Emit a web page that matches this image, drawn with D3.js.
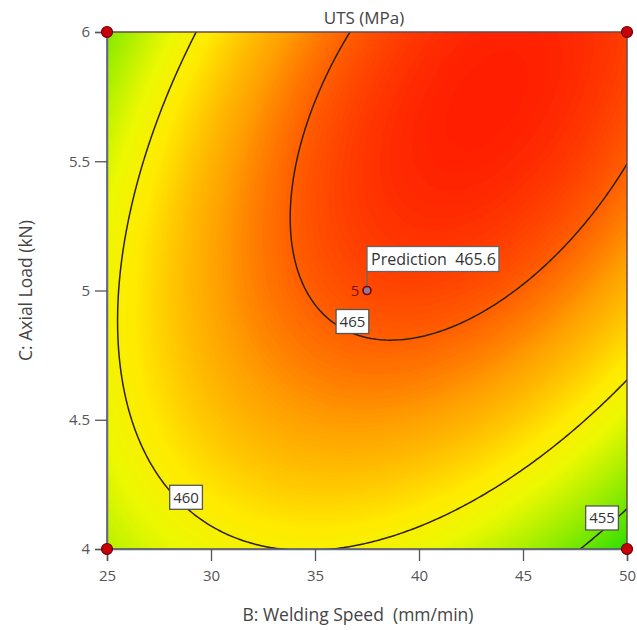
<!DOCTYPE html>
<html>
<head>
<script src="https://d3js.org/d3.v7.min.js"></script>
<style>
  body { margin: 0; background: #fff; }
  text { font-family: "Open Sans", "Noto Sans", sans-serif; fill: #444; }
</style>
</head>
<body>
<svg id="chart" width="637" height="630"></svg>
<script>
// factor ranges and ticks
const bRange = [25, 50];
const cRange = [4, 6];
const bTicks = [25, 30, 35, 40, 45, 50];
const cTicks = [4, 4.5, 5, 5.5, 6];

// quadratic model in coded units
const modelTerms = ["Intercept", "B", "C", "BC", "B^2", "C^2"];
const modelCoef = [465.6, 1.46, 2.83, 3.64, -4.55, -3.03];

const contourLevels = [455, 460, 465];
const designPoints = [[25, 4], [25, 6], [50, 4], [50, 6]];
const predictionPoint = [37.5, 5];
const predictionValue = 465.6;
const predictionCount = 5;

const svg = d3.select("#chart");
const pLeft = 107, pRight = 627, pTop = 32, pBottom = 549;

const x = d3.scaleLinear().domain(bRange).range([pLeft, pRight]);
const y = d3.scaleLinear().domain(cRange).range([pBottom, pTop]);

const color = d3.scaleLinear()
    .domain([453, 456, 459, 460.6, 463.3, 465.2, 467])
    .range(["rgb(40,220,0)", "rgb(140,235,0)", "rgb(235,248,0)", "rgb(255,235,0)",
            "rgb(255,160,0)", "rgb(255,88,0)", "rgb(255,28,0)"])
    .clamp(true);

function uts(B, C) {
  const u = (B - 37.5) / 12.5, v = (C - 5) / 1;
  const terms = [1, u, v, u * v, u * u, v * v];
  return d3.sum(terms, (t, i) => t * modelCoef[i]);
}

// grid a bit beyond the plot so ring edges fall outside the clip
const nx = 220, ny = 200;
const gB = [24, 51], gC = [3.9, 6.1];
const gx = d3.scaleLinear().domain([0, nx]).range(gB);
const gy = d3.scaleLinear().domain([0, ny]).range([gC[1], gC[0]]);
const values = new Array(nx * ny);
for (let j = 0; j < ny; j++)
  for (let i = 0; i < nx; i++)
    values[i + j * nx] = uts(gx(i), gy(j));

const proj = d3.geoTransform({
  point: function(px, py) { this.stream.point(x(gx(px)), y(gy(py))); }
});
const path = d3.geoPath(proj);

svg.append("clipPath").attr("id", "plotclip")
  .append("rect").attr("x", pLeft).attr("y", pTop)
  .attr("width", pRight - pLeft).attr("height", pBottom - pTop);

const plot = svg.append("g").attr("clip-path", "url(#plotclip)");

const fillLevels = d3.range(440, 470, 0.1);
plot.append("g").selectAll("path")
  .data(d3.contours().size([nx, ny]).thresholds(fillLevels)(values))
  .join("path")
  .attr("d", path)
  .attr("fill", d => color(d.value + 0.05))
  .attr("stroke", d => color(d.value + 0.05))
  .attr("stroke-width", 0.6);

plot.append("g").selectAll("path")
  .data(d3.contours().size([nx, ny]).thresholds(contourLevels)(values))
  .join("path")
  .attr("d", path)
  .attr("fill", "none")
  .attr("stroke", "#2e200e")
  .attr("stroke-width", 1.5);

// frame
svg.append("rect")
  .attr("x", pLeft).attr("y", pTop)
  .attr("width", pRight - pLeft).attr("height", pBottom - pTop)
  .attr("fill", "none").attr("stroke", "#6b4a4a").attr("stroke-width", 1.5);

// axes
const xAxis = svg.append("g").attr("transform", `translate(0,${pBottom})`)
  .call(d3.axisBottom(x).tickValues(bTicks).tickSize(12).tickPadding(9).tickFormat(d3.format("d")));
const yAxis = svg.append("g").attr("transform", `translate(${pLeft},0)`)
  .call(d3.axisLeft(y).tickValues(cTicks).tickSize(12).tickPadding(5).tickFormat(d => d));
[xAxis, yAxis].forEach(a => {
  a.select(".domain").attr("stroke", "#5a6a8a").attr("stroke-width", 1.5);
  a.selectAll(".tick line").attr("stroke", "#555").attr("stroke-width", 1.3);
  a.selectAll(".tick text").attr("font-size", 15).style("fill", "#555")
    .attr("font-family", '"Open Sans", sans-serif');
});

// contour labels
const labelSpots = { 455: [48.8, 4.12], 460: [28.8, 4.20], 465: [36.8, 4.88] };
function boxLabel(cx, cy, txt) {
  const g = svg.append("g");
  const t = g.append("text").attr("x", cx).attr("y", cy + 5.5)
    .attr("text-anchor", "middle").attr("font-size", 15).style("fill", "#333").text(txt);
  const w = t.node().getComputedTextLength() + 7;
  g.insert("rect", "text").attr("x", cx - w / 2).attr("y", cy - 12)
    .attr("width", w).attr("height", 24)
    .attr("fill", "#fff").attr("stroke", "#555").attr("stroke-width", 1.3);
}
contourLevels.forEach(l => boxLabel(x(labelSpots[l][0]), y(labelSpots[l][1]), l));

// design points
svg.append("g").selectAll("circle").data(designPoints).join("circle")
  .attr("cx", d => x(d[0])).attr("cy", d => y(d[1])).attr("r", 5.5)
  .attr("fill", "#c8000a").attr("stroke", "#6a0000").attr("stroke-width", 1.2);

// prediction
const px = x(predictionPoint[0]), py = y(predictionPoint[1]);
const pg = svg.append("g");
pg.append("line").attr("x1", px).attr("y1", py - 4).attr("x2", px).attr("y2", py - 19)
  .attr("stroke", "#666").attr("stroke-width", 1.3);
const pt = pg.append("text").attr("x", px + 4).attr("y", py - 26)
  .attr("font-size", 16).style("fill", "#333")
  .attr("xml:space", "preserve").style("white-space", "pre")
  .text("Prediction  " + predictionValue);
const pw = pt.node().getComputedTextLength() + 7;
pg.insert("rect", "text").attr("x", px).attr("y", py - 44)
  .attr("width", pw).attr("height", 25)
  .attr("fill", "#fff").attr("stroke", "#666").attr("stroke-width", 1.3);
pg.append("circle").attr("cx", px).attr("cy", py).attr("r", 4)
  .attr("fill", "#8a7d95").attr("stroke", "#7a0000").attr("stroke-width", 1.6);
pg.append("text").attr("x", px - 12).attr("y", py + 5)
  .attr("text-anchor", "middle").attr("font-size", 15).style("fill", "#7a1010")
  .text(predictionCount);

// titles
svg.append("text").attr("x", 364).attr("y", 24)
  .attr("text-anchor", "middle").attr("font-size", 17).text("UTS (MPa)");
svg.append("text").attr("x", 358).attr("y", 621)
  .attr("text-anchor", "middle").attr("font-size", 17.5)
  .attr("xml:space", "preserve").style("white-space", "pre")
  .text("B: Welding Speed  (mm/min)");
svg.append("text").attr("transform", `translate(32,${(pTop + pBottom) / 2}) rotate(-90)`)
  .attr("text-anchor", "middle").attr("font-size", 17.5).text("C: Axial Load (kN)");
</script>
</body>
</html>
